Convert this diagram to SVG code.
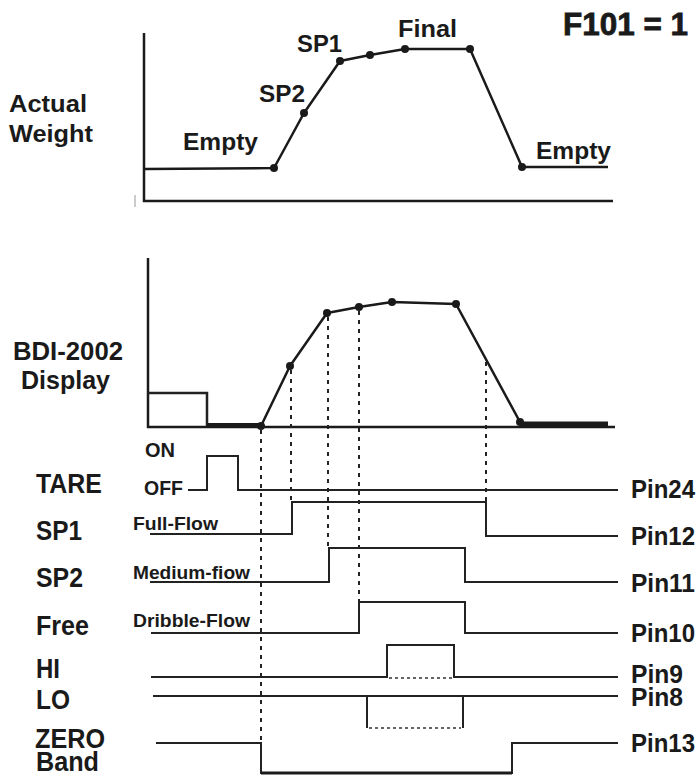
<svg xmlns="http://www.w3.org/2000/svg" width="700" height="776" viewBox="0 0 700 776">
<style>
text{font-family:"Liberation Sans",Arial,Helvetica,sans-serif;font-weight:bold;fill:#1a1a1a}
.lbl{font-size:24px}
.big{font-size:27px}
.pin{font-size:25px}
.sm{font-size:18px}
.ax{fill:none;stroke:#1a1a1a;stroke-width:2.5}
.cv{fill:none;stroke:#1a1a1a;stroke-width:2.5;stroke-linejoin:round}
.sig{fill:none;stroke:#222;stroke-width:2}
.dash{fill:none;stroke:#222;stroke-width:2;stroke-dasharray:4 5}
.dot{fill:none;stroke:#333;stroke-width:1.6;stroke-dasharray:3 3}
.pt{fill:#1a1a1a}
</style>
<rect width="700" height="776" fill="#fff"/>

<g id="top-graph">
  <path class="ax" d="M144,33 V201 H613"/>
  <line x1="135" y1="195" x2="135" y2="207" stroke="#999" stroke-width="1"/>
  <polyline class="cv" points="145,169 274,168 304,113 340,61 370,55 405,49 470,49 522,167 608,167"/>
  <g class="pt">
    <circle cx="274" cy="168" r="4"/>
    <circle cx="304" cy="113" r="4"/>
    <circle cx="340" cy="61" r="4"/>
    <circle cx="370" cy="55" r="4"/>
    <circle cx="405" cy="49" r="4"/>
    <circle cx="470" cy="49" r="4"/>
    <circle cx="522" cy="167" r="4"/>
  </g>
  <text class="lbl" x="9" y="112" textLength="78" lengthAdjust="spacingAndGlyphs">Actual</text>
  <text class="lbl" x="9" y="142" textLength="84" lengthAdjust="spacingAndGlyphs">Weight</text>
  <text class="lbl" x="183" y="150" textLength="75" lengthAdjust="spacingAndGlyphs">Empty</text>
  <text class="lbl" x="259" y="102" textLength="46" lengthAdjust="spacingAndGlyphs">SP2</text>
  <text class="lbl" x="297" y="52" textLength="45" lengthAdjust="spacingAndGlyphs">SP1</text>
  <text class="lbl" x="398" y="37" textLength="59" lengthAdjust="spacingAndGlyphs">Final</text>
  <text class="lbl" x="536" y="159" textLength="75" lengthAdjust="spacingAndGlyphs">Empty</text>
  <text x="563" y="35" textLength="125" lengthAdjust="spacingAndGlyphs" style="font-size:32px;stroke:#1a1a1a;stroke-width:0.8">F101 = 1</text>
</g>

<g id="display-graph">
  <path class="ax" d="M148,258 V427 H615"/>
  <path class="sig" d="M148,393 H207 V427" style="stroke-width:2.5"/>
  <line x1="207" y1="425" x2="262" y2="425" stroke="#1a1a1a" stroke-width="4"/>
  <line x1="520" y1="424" x2="608" y2="424" stroke="#1a1a1a" stroke-width="5"/>
  <polyline class="cv" points="261,426 290,366 327,313 359,307 392,302 456,304 520,422"/>
  <g class="pt">
    <circle cx="261" cy="426" r="4"/>
    <circle cx="290" cy="366" r="4"/>
    <circle cx="327" cy="313" r="4"/>
    <circle cx="359" cy="307" r="4"/>
    <circle cx="392" cy="302" r="4"/>
    <circle cx="456" cy="304" r="4"/>
    <circle cx="520" cy="422" r="4"/>
  </g>
  <text class="pin" x="13" y="360" textLength="110" lengthAdjust="spacingAndGlyphs">BDI-2002</text>
  <text class="pin" x="21" y="389" textLength="89" lengthAdjust="spacingAndGlyphs">Display</text>
</g>

<g id="connectors">
  <line class="dash" x1="261" y1="430" x2="261" y2="743"/>
  <line class="dash" x1="291" y1="370" x2="291" y2="502"/>
  <line class="dash" x1="328" y1="317" x2="328" y2="548"/>
  <line class="dash" x1="359" y1="311" x2="359" y2="602"/>
  <line class="dash" x1="486" y1="362" x2="486" y2="502"/>
</g>

<g id="tare">
  <path class="sig" d="M188,490 H207 V456 H238 V490 H618"/>
  <text x="145" y="457" textLength="30" lengthAdjust="spacingAndGlyphs" style="font-size:21px">ON</text>
  <text x="144" y="495" textLength="39" lengthAdjust="spacingAndGlyphs" style="font-size:21px">OFF</text>
  <text class="big" x="36" y="493" textLength="66" lengthAdjust="spacingAndGlyphs">TARE</text>
  <text class="pin" x="631" y="498" textLength="64" lengthAdjust="spacingAndGlyphs">Pin24</text>
</g>

<g id="sp1">
  <path class="sig" d="M150,534 H292 V502 H486 V536 H618"/>
  <text class="sm" x="133" y="530" textLength="85" lengthAdjust="spacingAndGlyphs">Full-Flow</text>
  <text class="big" x="36" y="540" textLength="46" lengthAdjust="spacingAndGlyphs">SP1</text>
  <text class="pin" x="631" y="545" textLength="64" lengthAdjust="spacingAndGlyphs">Pin12</text>
</g>

<g id="sp2">
  <path class="sig" d="M150,582 H329 V548 H465 V582 H618"/>
  <text class="sm" x="133" y="579" textLength="117" lengthAdjust="spacingAndGlyphs">Medium-fiow</text>
  <text class="big" x="36" y="587" textLength="47" lengthAdjust="spacingAndGlyphs">SP2</text>
  <text class="pin" x="631" y="592" textLength="64" lengthAdjust="spacingAndGlyphs">Pin11</text>
</g>

<g id="free">
  <path class="sig" d="M151,633 H359 V602 H465 V633 H618"/>
  <text class="sm" x="133" y="627" textLength="117" lengthAdjust="spacingAndGlyphs">Dribble-Flow</text>
  <text class="big" x="36" y="635" textLength="53" lengthAdjust="spacingAndGlyphs">Free</text>
  <text class="pin" x="631" y="642" textLength="64" lengthAdjust="spacingAndGlyphs">Pin10</text>
</g>

<g id="hi">
  <path class="sig" d="M151,677 H387 V645 H454 V677 H618"/>
  <line class="dot" x1="389" y1="678" x2="452" y2="678"/>
  <text class="big" x="36" y="678" textLength="24" lengthAdjust="spacingAndGlyphs">HI</text>
  <text class="pin" x="631" y="683" textLength="52" lengthAdjust="spacingAndGlyphs">Pin9</text>
</g>

<g id="lo">
  <line class="sig" x1="153" y1="696" x2="618" y2="696"/>
  <path class="sig" d="M367,696 V728 M463,696 V728"/>
  <line class="dot" x1="369" y1="728" x2="461" y2="728"/>
  <text class="big" x="36" y="709" textLength="34" lengthAdjust="spacingAndGlyphs">LO</text>
  <text class="pin" x="631" y="706" textLength="52" lengthAdjust="spacingAndGlyphs">Pin8</text>
</g>

<g id="zero-band">
  <path class="sig" d="M156,743 H261 V773 H512 V743 H618"/>
  <line x1="261" y1="773" x2="512" y2="773" stroke="#1a1a1a" stroke-width="3"/>
  <text class="big" x="35" y="748" textLength="70" lengthAdjust="spacingAndGlyphs">ZERO</text>
  <text class="big" x="36" y="771" textLength="63" lengthAdjust="spacingAndGlyphs">Band</text>
  <text class="pin" x="631" y="752" textLength="64" lengthAdjust="spacingAndGlyphs">Pin13</text>
</g>
</svg>
